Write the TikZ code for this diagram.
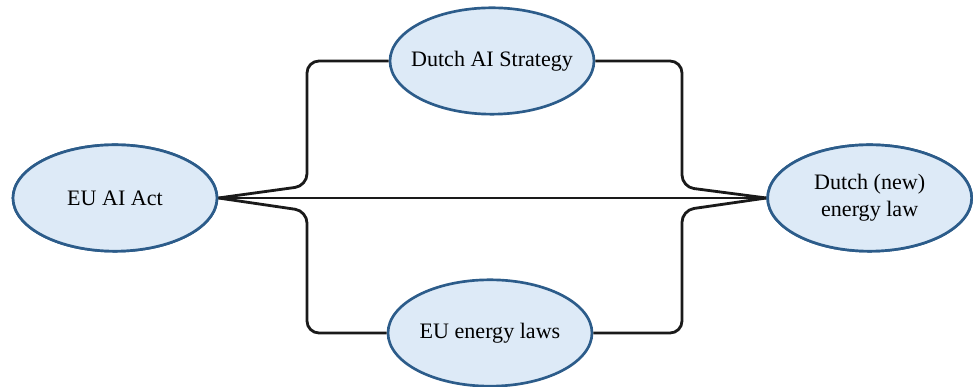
\documentclass[tikz,border=0pt]{standalone}
\usepackage{fontspec}
\setmainfont{Liberation Serif}
\usetikzlibrary{positioning, shapes.geometric}
\definecolor{topicfill}{RGB}{221,234,247}
\definecolor{topicline}{RGB}{44,92,138}
\definecolor{linkline}{RGB}{26,26,26}

\begin{document}
\begin{tikzpicture}[
    topic/.style={ellipse, draw=topicline, fill=topicfill, line width=1.9pt,
        minimum width=5.1cm, minimum height=2.66cm, inner xsep=-0.25cm, inner ysep=0pt,
        align=center, font=\fontsize{15.7}{19}\selectfont},
    link/.style={draw=linkline, line width=2pt, rounded corners=0.3cm},
    node distance=2cm and 13.7cm]

		\useasboundingbox (0,0) rectangle (24.325,9.675);

		\node[topic] (act) at (2.875,4.725) {EU AI Act};
		\node[topic, right=of act] (energy) {Dutch (new)\\energy law};
		\node[topic] (strategy) at (12.3,8.15) {Dutch AI Strategy};
		\node[topic] (laws) at (12.25,1.35) {EU energy laws};

		% bends of the two rails
		\coordinate (lt) at (7.675,5.03);
		\coordinate (lb) at (7.675,4.4);
		\coordinate (rt) at (17.05,5.0);
		\coordinate (rb) at (17.05,4.42);

		\draw[link] (act.east) -- (energy.west);
		\draw[link] (act.east) -- (lt) |- (strategy.west);
		\draw[link] (strategy.east) -| (rt) -- (energy.west);
		\draw[link] (act.east) -- (lb) |- (laws.west);
		\draw[link] (laws.east) -| (rb) -- (energy.west);

		% redraw the ellipses over the line ends
		\node[topic] at (act) {EU AI Act};
		\node[topic] at (energy) {Dutch (new)\\energy law};

\end{tikzpicture}
\end{document}
